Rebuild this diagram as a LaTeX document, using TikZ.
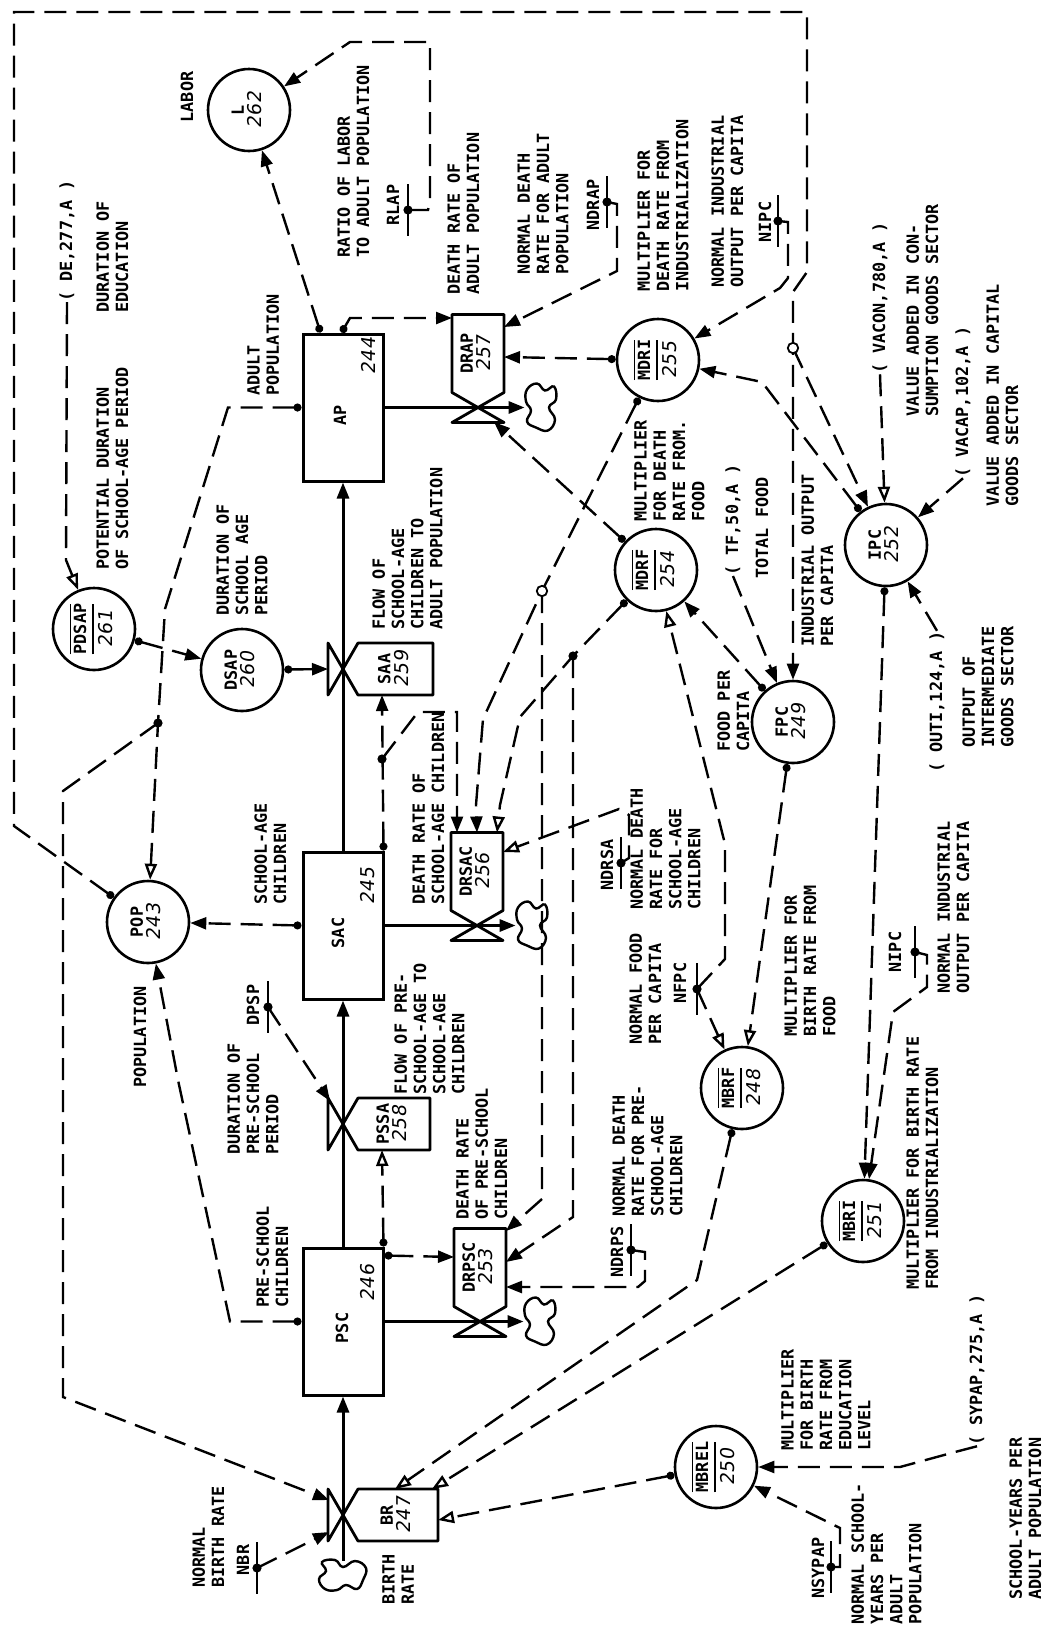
\documentclass[tikz,border=0pt]{standalone}
\usepackage{fontspec}
\usepackage{graphicx}
\usetikzlibrary{arrows.meta,calc}
\newfontfamily\lf{DejaVu Sans Mono}
\newfontfamily\hw{DejaVu Sans}[FakeSlant=0.15]
\newcommand{\lfs}{\lf\bfseries\fontsize{8.4pt}{9.6pt}\selectfont}
\newcommand{\hws}{\hw\mdseries\fontsize{9.5pt}{10pt}\selectfont}
\setlength{\arrayrulewidth}{0.8pt}
\newcommand{\two}[2]{\begin{tabular}{@{}c@{}}#1\\[-1pt]{\hws #2}\end{tabular}}
\newcommand{\ovl}[2]{\begin{tabular}{@{}c@{}}\hline\rule{0pt}{7.5pt}#1\\\hline\rule{0pt}{9.5pt}{\hws #2}\end{tabular}}
% rate with box to the right of a vertical flow
\newcommand{\rateV}[6]{%
  \draw[box] (#2,#3) -- ++(15,-26) -- ++({#4-15},0) -- ++(0,52) -- ++({-(#4-15)},0) -- cycle;
  \draw[box] (#2,#3) -- ++(-15,-26) -- ++(0,52) -- cycle;
  \node[ratebox, minimum width={(#4-15)*0.5pt}, minimum height=26pt] (#1) at ({#2+15+(#4-15)/2},#3) {\rotatebox{90}{\two{#5}{#6}}};
}
% rate with box above a horizontal flow
\newcommand{\rateH}[6]{%
  \draw[box] (#2,#3) -- ++(-26,-15) -- ++(0,{-(#4-15)}) -- ++(52,0) -- ++(0,{#4-15}) -- cycle;
  \draw[box] (#2,#3) -- ++(-26,15) -- ++(52,0) -- cycle;
  \node[ratebox, minimum width=26pt, minimum height={(#4-15)*0.5pt}] (#1) at (#2,{#3-15-(#4-15)/2}) {\rotatebox{90}{\two{#5}{#6}}};
}
% cloud: name, x, y, rotation, width, height
\newcommand{\blob}[6]{%
  \node[inner sep=0pt, minimum width=#5, minimum height=#6] (#1) at (#2,#3) {};
  \draw[line width=1.2pt, shift={(#2,#3)}, rotate=#4] plot[smooth cycle, tension=0.75] coordinates {(-13,-18) (-3,-24) (5,-17) (14,-21) (16,-8) (9,0) (15,12) (8,23) (-4,20) (-13,14) (-9,3) (-14,-6)};
}
% constant symbol: name, x, dot y
\newcommand{\cons}[3]{%
  \draw[csym] (#2,{#3-26}) -- (#2,{#3+26});
  \fill (#2,#3) circle (2.3pt);
  \coordinate (#1) at (#2,#3);
}
\begin{document}
\begin{tikzpicture}[x=0.5pt,y=-0.5pt,
  lbl/.style={font=\lfs, rotate=90, inner sep=0pt, align=left, anchor=north west},
  clbl/.style={font=\lfs, rotate=90, inner sep=0pt, align=center, anchor=center},
  aux/.style={circle, draw, line width=1.3pt, inner sep=0pt, minimum size=41pt, font=\lfs},
  level/.style={draw, line width=1.5pt, minimum width=40pt, minimum height=73.5pt, inner sep=0pt},
  box/.style={line width=1.4pt, line join=round},
  ratebox/.style={inner sep=0pt, font=\lfs},
  flow/.style={line width=1.5pt, -{Triangle[length=8pt,width=6pt]}},
  dsh/.style={line width=1.2pt, dash pattern=on 11pt off 5pt},
  ar/.style={-{Triangle[length=8pt,width=6pt]}},
  aro/.style={-{Triangle[open,length=8pt,width=6pt]}},
  dar/.style={{Circle[length=4pt]}-{Triangle[length=8pt,width=6pt]}},
  daro/.style={{Circle[length=4pt]}-{Triangle[open,length=8pt,width=6pt]}},
  csym/.style={line width=1.1pt},
]
\fill[white] (0,0) rectangle (1044,1629);
\useasboundingbox (0,0) rectangle (1044,1629);

% ---------- levels ----------
\node[level] (AP) at (343,407.5) {};
\node[level] (SAC) at (343,925.5) {};
\node[level] (PSC) at (343,1321.5) {};
\node[clbl] (tAP) at (340,415) {AP};
\node[clbl, font=\hws] (nAP) at (368,356) {244};
\node[clbl] (tSAC) at (338,933) {SAC};
\node[clbl, font=\hws] (nSAC) at (368,886) {245};
\node[clbl] (tPSC) at (342,1328) {PSC};
\node[clbl, font=\hws] (nPSC) at (368,1283) {246};

% ---------- rates ----------
\rateH{DRAP}{478}{407.5}{93}{DRAP}{257}
\rateH{DRSAC}{477}{925.5}{93}{DRSAC}{256}
\rateH{DRPSC}{480}{1321.5}{93}{DRPSC}{253}
\rateV{BR}{343}{1515}{95}{BR}{247}
\rateV{PSSA}{343}{1124}{87}{PSSA}{258}
\rateV{SAA}{343}{669}{90}{SAA}{259}

% ---------- clouds ----------
\blob{cA}{540}{407.5}{0}{15pt}{24pt}
\blob{cS}{531}{925.5}{0}{15pt}{24pt}
\blob{cP}{539}{1321.5}{0}{15pt}{24pt}
\blob{cB}{343}{1576}{90}{23pt}{15pt}

% ---------- flows ----------
\draw[flow] (cB.north) -- (PSC.south);
\draw[flow] (PSC.north) -- (SAC.south);
\draw[flow] (SAC.north) -- (AP.south);
\draw[flow] (AP.east) -- (cA.west);
\draw[flow] (SAC.east) -- (cS.west);
\draw[flow] (PSC.east) -- (cP.west);

% ---------- auxiliaries ----------
\node[aux] (L) at (249,110) {\rotatebox{90}{\two{L}{262}}};
\node[aux] (PDSAP) at (94,629) {\rotatebox{90}{\ovl{PDSAP}{261}}};
\node[aux] (DSAP) at (242,670) {\rotatebox{90}{\two{DSAP}{260}}};
\node[aux] (POP) at (148,922) {\rotatebox{90}{\two{POP}{243}}};
\node[aux] (MDRI) at (658,360) {\rotatebox{90}{\ovl{MDRI}{255}}};
\node[aux] (MDRF) at (656,570) {\rotatebox{90}{\ovl{MDRF}{254}}};
\node[aux] (IPC) at (886,545) {\rotatebox{90}{\two{IPC}{252}}};
\node[aux] (FPC) at (793,722) {\rotatebox{90}{\two{FPC}{249}}};
\node[aux] (MBRF) at (742,1088) {\rotatebox{90}{\ovl{MBRF}{248}}};
\node[aux] (MBRI) at (863,1221) {\rotatebox{90}{\ovl{MBRI}{251}}};
\node[aux] (MBREL) at (716,1467) {\rotatebox{90}{\ovl{MBREL}{250}}};

% ---------- labels ----------
\node[clbl] (tLabor) at (187,97) {LABOR};
\node[clbl] (tDE) at (67,241) {( DE,277,A )};
\node[lbl] (tDurEdu) at (96,313) {DURATION OF\\EDUCATION};
\node[lbl] (tPot) at (96,570) {POTENTIAL DURATION\\OF SCHOOL-AGE PERIOD};
\node[lbl] (tAdult) at (247,396) {ADULT\\POPULATION};
\node[lbl] (tRatio) at (337,258) {RATIO OF LABOR\\TO ADULT POPULATION};
\node[clbl] (tRLAP) at (393,205) {RLAP};
\node[lbl] (tDRAP) at (447,295) {DEATH RATE OF\\ADULT POPULATION};
\node[lbl] (tNDRAPl) at (517,275) {NORMAL DEATH\\RATE FOR ADULT\\POPULATION};
\node[clbl] (tNDRAP) at (593,205) {NDRAP};
\node[lbl] (tMDRIl) at (637,292) {MULTIPLIER FOR\\DEATH RATE FROM\\INDUSTRIALIZATION};
\node[lbl] (tNIPCal) at (711,288) {NORMAL INDUSTRIAL\\OUTPUT PER CAPITA};
\node[clbl] (tNIPCa) at (765,222) {NIPC};
\node[clbl] (tVACON) at (880,298) {( VACON,780,A )};
\node[lbl] (tVACONl) at (906,417) {VALUE ADDED IN CON-\\SUMPTION GOODS SECTOR};
\node[clbl] (tVACAP) at (963,402) {( VACAP,102,A )};
\node[lbl] (tVACAPl) at (986,507) {VALUE ADDED IN CAPITAL\\GOODS SECTOR};
\node[lbl] (tMDRFl) at (634,522) {MULTIPLIER\\FOR DEATH\\RATE FROM.\\FOOD};
\node[clbl] (tTF) at (733,520) {( TF,50,A )};
\node[clbl] (tTotal) at (762,528) {TOTAL FOOD};
\node[lbl] (tIOPC) at (801,647) {INDUSTRIAL OUTPUT\\PER CAPITA};
\node[lbl] (tFPCl) at (717,752) {FOOD PER\\CAPITA};
\node[clbl] (tOUTI) at (937,702) {( OUTI,124,A )};
\node[lbl] (tOUTIl) at (962,748) {OUTPUT OF\\INTERMEDIATE\\GOODS SECTOR};
\node[lbl] (tFlowSAA) at (372,630) {FLOW OF\\SCHOOL-AGE\\CHILDREN TO\\ADULT POPULATION};
\node[lbl] (tDSAPl) at (216,616) {DURATION OF\\SCHOOL AGE\\PERIOD};
\node[lbl] (tSACl) at (254,905) {SCHOOL-AGE\\CHILDREN};
\node[lbl] (tDRSACl) at (412,905) {DEATH RATE OF\\SCHOOL-AGE CHILDREN};
\node[clbl] (tNDRSA) at (607,865) {NDRSA};
\node[lbl] (tNDRSAl) at (630,910) {NORMAL DEATH\\RATE FOR\\SCHOOL-AGE\\CHILDREN};
\node[lbl] (tNFPCl) at (629,1045) {NORMAL FOOD\\PER CAPITA};
\node[clbl] (tNFPC) at (680,983) {NFPC};
\node[lbl] (tMBRFl) at (784,1037) {MULTIPLIER FOR\\BIRTH RATE FROM\\FOOD};
\node[clbl] (tNIPCb) at (895,952) {NIPC};
\node[lbl] (tNIPCbl) at (937,994) {NORMAL INDUSTRIAL\\OUTPUT PER CAPITA};
\node[clbl, anchor=west] (tPOPl) at (140,1088) {POPULATION};
\node[clbl] (tDPSP) at (253,1005) {DPSP};
\node[lbl] (tDPSPl) at (227,1155) {DURATION OF\\PRE-SCHOOL\\PERIOD};
\node[lbl] (tFlowPSSA) at (394,1095) {FLOW OF PRE-\\SCHOOL-AGE TO\\SCHOOL-AGE\\CHILDREN};
\node[lbl] (tPSCl) at (256,1308) {PRE-SCHOOL\\CHILDREN};
\node[lbl] (tDRPSCl) at (456,1220) {DEATH RATE\\OF PRE-SCHOOL\\CHILDREN};
\node[clbl] (tNDRPS) at (617,1252) {NDRPS};
\node[lbl] (tNDRPSl) at (612,1217) {NORMAL DEATH\\RATE FOR PRE-\\SCHOOL-AGE\\CHILDREN};
\node[lbl] (tMBRIl) at (906,1290) {MULTIPLIER FOR BIRTH RATE\\FROM INDUSTRIALIZATION};
\node[lbl] (tNBRl) at (192,1588) {NORMAL\\BIRTH RATE};
\node[clbl] (tNBR) at (243,1560) {NBR};
\node[lbl] (tBRl) at (382,1605) {BIRTH\\RATE};
\node[lbl] (tMBRELl) at (781,1451) {MULTIPLIER\\FOR BIRTH\\RATE FROM\\EDUCATION\\LEVEL};
\node[clbl] (tSYPAP) at (977,1370) {( SYPAP,275,A )};
\node[lbl] (tSYPAPl) at (1009,1600) {SCHOOL-YEARS PER\\ADULT POPULATION};
\node[clbl] (tNSYPAP) at (818,1568) {NSYPAP};
\node[lbl] (tNSYPAPl) at (851,1625) {NORMAL SCHOOL-\\YEARS PER\\ADULT\\POPULATION};

% ---------- connection points on rates ----------
\coordinate (DRAPinL) at (452,318);
\coordinate (DRAPinTR) at (504,327);
\coordinate (DRAPinR) at (504,357);
\coordinate (DRAPinV) at (494,422);
\coordinate (DRSACinT1) at (457,832.5);
\coordinate (DRSACinT2) at (477,832.5);
\coordinate (DRSACinT3) at (497,832.5);
\coordinate (DRSACinR) at (503,852);
\coordinate (DRPSCinL) at (454,1257);
\coordinate (DRPSCinTR) at (506,1231);
\coordinate (DRPSCinR1) at (506,1262);
\coordinate (DRPSCinR2) at (506,1287);
\coordinate (BRinT) at (395,1489);
\coordinate (BRinTR) at (432,1489);
\coordinate (BRinR) at (438,1520);
\coordinate (BRvL1) at (329,1500);
\coordinate (BRvL2) at (329,1532);
\coordinate (PSSAinB) at (382,1150);
\coordinate (PSSAvL) at (330,1101);
\coordinate (SAAinB) at (382,695);
\coordinate (SAAvL) at (328,669);

% ---------- constants ----------
\cons{RLAP}{408}{210}
\cons{NDRAP}{607}{202}
\cons{NIPCa}{778}{221}
\cons{NDRSA}{621}{863}
\cons{NFPC}{697}{989}
\cons{NDRPS}{631}{1250}
\cons{DPSP}{268}{1007}
\cons{NBR}{257}{1568}
\cons{NIPCb}{915}{952}
\cons{NSYPAP}{831}{1567}

% ---------- information links ----------
\draw[dsh,dar] (POP) -- (14,826) -- (14,12) -- (807,12) -- (807,272) -- (793,292) -- (FPC);
\draw[dsh,ar] (793,348) -- (IPC);
\draw[fill=white,line width=0.9pt] (793,348) circle (2.6pt);

\draw[dsh,daro] (AP.west) -- (228,407.5) -- (185,545) -- (165,609) -- (158,723) -- (POP);
\draw[dsh,ar] (158,723) -- (63,791) -- (63,1397) -- (BRvL1);
\fill (158,723) circle (2.3pt);
\draw[dsh,dar] (SAC.west) -- (POP);
\draw[dsh,dar] (PSC.west) -- (230,1321.5) -- (178,1080) -- (POP);

\draw[dsh,dar] ($(AP.north west)+(19,0)$) -- (L);
\draw[dsh,dar] ($(AP.north west)+(40,0)$) -- (350,318) -- (DRAPinL);
\draw[dsh,ar] (RLAP) -- (428,210) -- (430,200) -- (430,42) -- (350,42) -- (L);
\draw[dsh,ar] (NDRAP) -- (617,204) -- (617,271) -- (DRAPinTR);
\draw[dsh,dar] (MDRI) -- (DRAPinR);
\draw[dsh,dar] (MDRF) -- (DRAPinV);

\draw[dsh,dar] (MDRI) -- (542,591) -- (483,719) -- (476,805) -- (DRSACinT2);
\draw[dsh,ar] (542,591) -- (542,1199) -- (DRPSCinTR);
\draw[fill=white,line width=0.9pt] (542,591) circle (2.6pt);
\draw[dsh,daro] (MDRF) -- (573,656) -- (520,717) -- (500,805) -- (DRSACinT3);
\draw[dsh,ar] (573,656) -- (573,1217) -- (DRPSCinR1);
\fill (573,656) circle (2.3pt);

\draw[dsh,dar] ($(SAC.north east)+(-1,0)$) -- (SAAinB);
\draw[dsh,ar] (382,759) -- (418,712) -- (457,712) -- (DRSACinT1);
\fill (382,759) circle (2.3pt);
\draw[dsh,dar] (DSAP) -- (SAAvL);
\draw[dsh,dar] (PDSAP) -- (DSAP);
\draw[dsh,aro] (tDE.west) -- (66,560) -- (PDSAP);
\draw[dsh,aro] (NDRSA) -- (629,858) -- (629,815) -- (619,809) -- (DRSACinR);

\draw[dsh,daro] ($(PSC.north east)+(-1,0)$) -- (PSSAinB);
\draw[dsh,dar] ($(PSC.north east)+(0,9)$) -- (DRPSCinL);
\draw[dsh,ar] (DPSP) -- (PSSAvL);
\draw[dsh,ar] (NDRPS) -- (645,1252) -- (645,1281) -- (638,1287) -- (DRPSCinR2);
\draw[dsh,ar] (NBR) -- (BRvL2);

\draw[dsh,daro] (MBRF) -- (697,1280) -- (BRinT);
\draw[dsh,daro] (MBRI) -- (BRinTR);
\draw[dsh,daro] (MBREL) -- (BRinR);

\draw[dsh,dar] (FPC) -- (MDRF);
\draw[dsh,daro] (FPC) -- (MBRF);
\draw[dsh,aro] (NFPC) -- (725,959) -- (725,844) -- (MDRF);
\draw[dsh,aro] (NFPC) -- (MBRF);
\draw[dsh,ar] (tTF.west) -- (FPC);

\draw[dsh,ar] (NIPCa) -- (788,222) -- (788,278) -- (780,288) -- (MDRI);
\draw[dsh,dar] (IPC) -- (762,382) -- (MDRI);
\draw[dsh,aro] (tVACON.west) -- (IPC);
\draw[dsh,ar] (tVACAP.west) -- (IPC);
\draw[dsh,ar] (tOUTI.east) -- (IPC);
\draw[dsh,dar] (IPC) -- (MBRI);
\draw[dsh,ar] (NIPCb) -- (927,955) -- (927,987) -- (893,1012) -- (MBRI);

\draw[dsh,ar] (tSYPAP.west) -- (955,1452) -- (900,1467) -- (MBREL);
\draw[dsh,ar] (NSYPAP) -- (840,1567) -- (840,1528) -- (MBREL);
\end{tikzpicture}
\end{document}
